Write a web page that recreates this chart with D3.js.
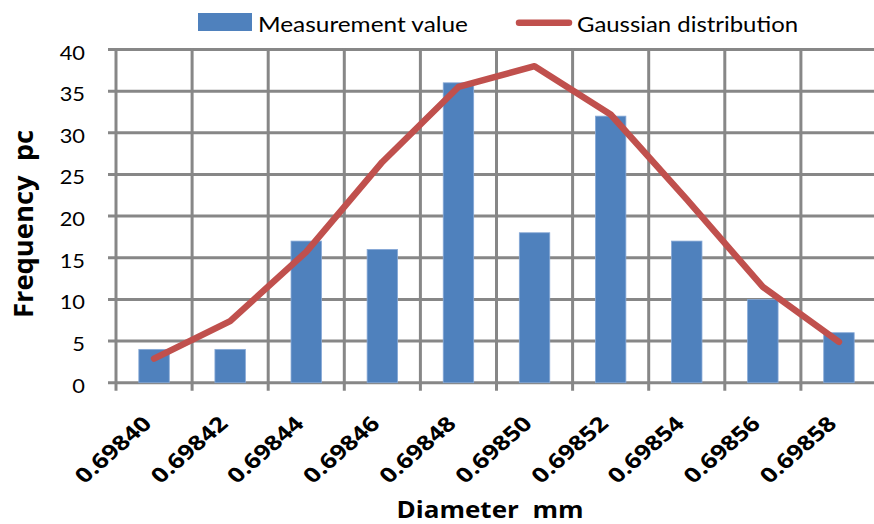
<!DOCTYPE html>
<html>
<head>
<meta charset="utf-8">
<script src="https://cdn.jsdelivr.net/npm/d3@7"></script>
<style>
  html, body { margin: 0; padding: 0; background: #ffffff; }
  svg { display: block; }
  text { font-family: Lato, "Open Sans", "Noto Sans", sans-serif; fill: #000; white-space: pre; }
  text.bold { font-family: "Open Sans", "Noto Sans", sans-serif; font-weight: bold; }
</style>
</head>
<body>
<svg id="chart" width="874" height="524"></svg>
<script>
// Diameter classes (mm)
const categories = ["0.69840", "0.69842", "0.69844", "0.69846", "0.69848",
                    "0.69850", "0.69852", "0.69854", "0.69856", "0.69858"];
// Measured frequency per class (pieces)
const measured = [4, 4, 17, 16, 36, 18, 32, 17, 10, 6];
// Fitted Gaussian frequency per class
const gaussian = [2.9, 7.4, 15.7, 26.5, 35.5, 38.0, 32.2, 22.0, 11.5, 4.9];
// Y axis ticks
const yTicks = [0, 5, 10, 15, 20, 25, 30, 35, 40];
const seriesNames = ["Measurement value", "Gaussian distribution"];

const svg = d3.select("#chart");
const W = 874, H = 524;
const plot = { left: 116, right: 877, top: 49.5, bottom: 382.7 };
const SX = 1.15; // horizontal stretch applied to text glyphs
const gridColor = "#878787";
const barColor = "#4F81BD";
const lineColor = "#C0504D";

svg.append("rect").attr("width", W).attr("height", H).attr("fill", "#fff");

const x = d3.scaleBand()
  .domain(categories)
  .range([plot.left, plot.right])
  .paddingInner(0.6)
  .paddingOuter(0.3);
const step = x.step();
const y = d3.scaleLinear().domain([0, 40]).range([plot.bottom, plot.top]);

// Horizontal gridlines with outward tick stubs
svg.append("g").selectAll("line").data(yTicks).join("line")
  .attr("x1", plot.left - 8).attr("x2", plot.right)
  .attr("y1", d => y(d)).attr("y2", d => y(d))
  .attr("stroke", gridColor).attr("stroke-width", 3);

// Vertical gridlines at category boundaries with tick stubs below the axis
const bounds = d3.range(categories.length + 1).map(i => plot.left + i * step);
svg.append("g").selectAll("line").data(bounds).join("line")
  .attr("x1", d => d).attr("x2", d => d)
  .attr("y1", plot.top - 1.5).attr("y2", plot.bottom + 8)
  .attr("stroke", gridColor).attr("stroke-width", 3);

// Y tick labels
svg.append("g").selectAll("text").data(yTicks).join("text")
  .attr("transform", d => `translate(85,${y(d) + 10}) scale(${SX},1)`)
  .attr("text-anchor", "end")
  .attr("font-size", 19)
  .text(d => d);

// Bars
svg.append("g").selectAll("rect").data(measured).join("rect")
  .attr("x", (d, i) => x(categories[i]))
  .attr("width", x.bandwidth())
  .attr("y", d => y(d))
  .attr("height", d => y(0) - y(d))
  .attr("fill", barColor)
  .attr("stroke", "#86a8d6").attr("stroke-width", 0.8);

// Gaussian curve through category centres
const line = d3.line()
  .x((d, i) => x(categories[i]) + x.bandwidth() / 2)
  .y(d => y(d));
svg.append("path").datum(gaussian)
  .attr("d", line)
  .attr("fill", "none")
  .attr("stroke", lineColor)
  .attr("stroke-width", 6.5)
  .attr("stroke-linejoin", "round")
  .attr("stroke-linecap", "round");

// X tick labels, rotated
svg.append("g").selectAll("text").data(categories).join("text")
  .attr("class", "bold")
  .attr("transform", d => `translate(${x(d) + x.bandwidth() / 2 - 1},425) scale(${SX},1) rotate(-45)`)
  .attr("text-anchor", "end")
  .attr("font-size", 20.5)
  .attr("textLength", 84)
  .attr("lengthAdjust", "spacingAndGlyphs")
  .text(d => d);

// Axis titles
svg.append("text")
  .attr("class", "bold")
  .attr("transform", `translate(33,224) scale(${SX},1) rotate(-90)`)
  .attr("text-anchor", "middle")
  .attr("font-size", 23)
  .attr("textLength", 188)
  .attr("lengthAdjust", "spacingAndGlyphs")
  .text("Frequency  pc");

svg.append("text")
  .attr("class", "bold")
  .attr("x", 490).attr("y", 518)
  .attr("text-anchor", "middle")
  .attr("font-size", 23)
  .attr("textLength", 187)
  .attr("lengthAdjust", "spacingAndGlyphs")
  .text("Diameter  mm");

// Legend
const legend = svg.append("g");
legend.append("rect")
  .attr("x", 198).attr("y", 13).attr("width", 54).attr("height", 18)
  .attr("fill", barColor);
legend.append("text")
  .attr("x", 258).attr("y", 31.5)
  .attr("font-size", 21)
  .attr("textLength", 210)
  .attr("lengthAdjust", "spacingAndGlyphs")
  .text(seriesNames[0]);
legend.append("line")
  .attr("x1", 519).attr("x2", 569).attr("y1", 22.7).attr("y2", 22.7)
  .attr("stroke", lineColor).attr("stroke-width", 6.5)
  .attr("stroke-linecap", "round");
legend.append("text")
  .attr("x", 577).attr("y", 31.5)
  .attr("font-size", 21)
  .attr("textLength", 221)
  .attr("lengthAdjust", "spacingAndGlyphs")
  .text(seriesNames[1]);
</script>
</body>
</html>
